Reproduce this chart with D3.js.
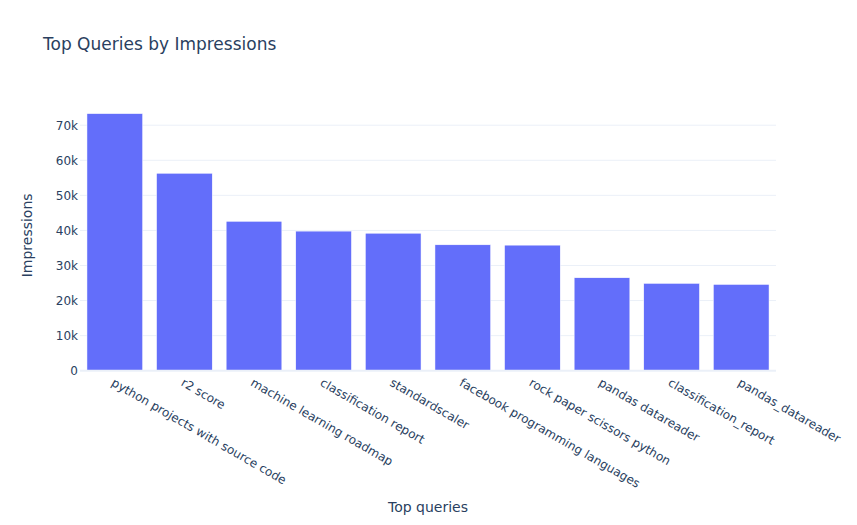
<!DOCTYPE html>
<html>
<head>
<meta charset="utf-8">
<script src="https://cdn.jsdelivr.net/npm/d3@7"></script>
<style>
  html, body { margin: 0; padding: 0; background: #fff; }
  svg { display: block; }
  text { font-family: "DejaVu Sans", Verdana, sans-serif; fill: #2a3f5f; }
</style>
</head>
<body>
<div id="chart"></div>
<script>
const categories = [
  "python projects with source code",
  "r2 score",
  "machine learning roadmap",
  "classification report",
  "standardscaler",
  "facebook programming languages",
  "rock paper scissors python",
  "pandas datareader",
  "classification_report",
  "pandas_datareader"
];
const impressions = [73300, 56300, 42600, 39800, 39200, 35900, 35800, 26500, 24900, 24600];
const yTicks = [0, 10000, 20000, 30000, 40000, 50000, 60000, 70000];
const yTickLabels = ["0", "10k", "20k", "30k", "40k", "50k", "60k", "70k"];
const titleText = "Top Queries by Impressions";
const xTitle = "Top queries";
const yTitle = "Impressions";

const W = 857, H = 525;
const plot = { left: 80, right: 776, top: 100, bottom: 370.7 };

const svg = d3.select("#chart").append("svg").attr("width", W).attr("height", H);

const x = d3.scaleBand().domain(categories).range([plot.left, plot.right]).paddingInner(0.2).paddingOuter(0.1);
const yMax = d3.max(impressions) * 1.053;
const y = d3.scaleLinear().domain([0, yMax]).range([plot.bottom, plot.top]);

// grid
svg.append("g").selectAll("line").data(yTicks.filter(d => d > 0)).join("line")
  .attr("x1", plot.left).attr("x2", plot.right)
  .attr("y1", d => y(d)).attr("y2", d => y(d))
  .attr("stroke", "#EBF0F8").attr("stroke-width", 1);

// bars
svg.append("g").selectAll("rect").data(impressions).join("rect")
  .attr("x", (d, i) => x(categories[i]))
  .attr("width", x.bandwidth())
  .attr("y", d => y(d))
  .attr("height", d => y(0) - y(d))
  .attr("fill", "#636efa")
  .attr("stroke", "#ffffff").attr("stroke-width", 0.5);

// zero line
svg.append("line")
  .attr("x1", plot.left).attr("x2", plot.right)
  .attr("y1", y(0)).attr("y2", y(0))
  .attr("stroke", "#EBF0F8").attr("stroke-width", 2);

// y tick labels
svg.append("g").selectAll("text").data(yTicks).join("text")
  .attr("x", plot.left - 2).attr("y", d => y(d))
  .attr("dy", "0.36em")
  .attr("text-anchor", "end")
  .attr("font-size", 12)
  .text((d, i) => yTickLabels[i]);

// x tick labels
svg.append("g").selectAll("text").data(categories).join("text")
  .attr("transform", d => `translate(${x(d) + x.bandwidth() / 2},${plot.bottom + 7}) rotate(30)`)
  .attr("dy", "0.71em")
  .attr("text-anchor", "start")
  .attr("font-size", 12)
  .text(d => d);

// title
svg.append("text").attr("x", 43).attr("y", 50)
  .attr("font-size", 17).text(titleText);

// axis titles
svg.append("text").attr("x", (plot.left + plot.right) / 2).attr("y", 512)
  .attr("text-anchor", "middle").attr("font-size", 14).text(xTitle);
svg.append("text")
  .attr("transform", `translate(32,${(plot.top + plot.bottom) / 2}) rotate(-90)`)
  .attr("text-anchor", "middle").attr("font-size", 14).text(yTitle);
</script>
</body>
</html>
